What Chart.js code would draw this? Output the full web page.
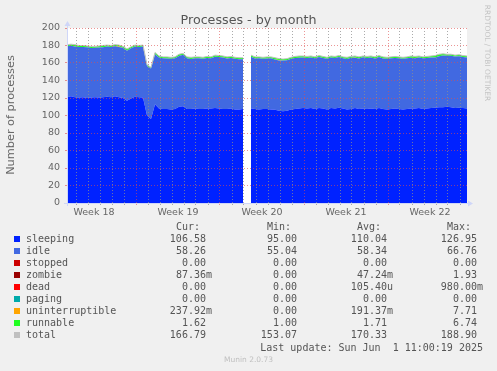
<!DOCTYPE html>
<html>
<head>
<meta charset="utf-8">
<script src="https://cdn.jsdelivr.net/npm/chart.js@4.4.0/dist/chart.umd.min.js"></script>
<style>
  html, body { margin: 0; padding: 0; background: #f0f0f0; }
  #wrap { position: relative; width: 497px; height: 371px; overflow: hidden; }
  #chart { position: absolute; left: 0; top: 0; }
  .txt { position: absolute; white-space: pre; color: #666; font-family: 'DejaVu Sans', sans-serif; }
  .mono { position: absolute; white-space: pre; font-family: 'DejaVu Sans Mono', monospace; font-size: 10px; line-height: 12px; color: #555; }
  .sw { position: absolute; width: 6px; height: 6px; }
</style>
</head>
<body>
<div id="wrap">
  <canvas id="chart" width="497" height="371"></canvas>
  <div class="txt" style="left:0; top:12px; width:497px; text-align:center; font-size:12.7px; line-height:15px; color:#555;">Processes - by month</div>
  <div class="txt" style="left:-89px; top:108px; width:200px; height:14px; text-align:center; font-size:11.3px; line-height:14px; transform:rotate(-90deg);">Number of processes</div>
  <div class="txt" style="left:427px; top:48px; width:120px; height:10px; text-align:center; font-size:7.5px; line-height:10px; color:#c4c4c4; transform:rotate(90deg);">RRDTOOL / TOBI OETIKER</div>
  <div id="legend"></div>
  <div class="mono" style="right:14px; top:342px;">Last update: Sun Jun  1 11:00:19 2025</div>
  <div class="txt" style="left:0; top:355px; width:497px; text-align:center; font-size:7.5px; line-height:10px; color:#c0c0c0;">Munin 2.0.73</div>
</div>
<script>
// one sample every 8 hours (null = no data)
const sampleHours = 8;

const sleeping = [
  121, 122, 121, 120.5, 121, 120, 120.5, 121, 120.5, 121,
  121.5, 121, 122, 121, 120, 117, 119.5, 121.5, 121, 120.5,
  100, 96, 113, 108, 107.5, 107.5, 107, 107.5, 110, 110.5,
  107.5, 107.5, 108, 107.5, 107.5, 108, 108, 108.5, 108, 107.5,
  107.5, 108, 107, 107, 107.5, null, 108, 107.5, 107, 107.5,
  107.5, 107, 106.5, 105.5, 105, 105.5, 107, 107.5, 108, 108.5,
  108, 108.5, 107.5, 108.5, 108, 107, 108.5, 108, 109, 108,
  107, 107.5, 108.5, 107.5, 108, 107.5, 108, 107.5, 108.5, 107.5,
  107, 107.5, 108, 107.5, 107, 107.5, 108, 108, 108.5, 107.5,
  108, 108.5, 109, 109.5, 109.5, 110, 109.5, 108.5, 109, 108.5,
  108
];

const idle = [
  58.5, 57.7, 58.0, 57.9, 57.3, 58.0, 56.7, 56.4, 57.3, 57.0,
  57.4, 57.2, 57.2, 57.3, 57.4, 57.1, 57.3, 57.4, 57.2, 58.3,
  56.5, 57.7, 57.1, 58.3, 57.9, 57.7, 58.0, 57.8, 58.0, 58.9,
  57.8, 57.2, 57.5, 57.8, 57.4, 57.6, 57.3, 58.7, 58.9, 58.8,
  57.6, 57.7, 57.8, 57.4, 56.8, null, 59.2, 57.6, 58.3, 57.4,
  57.7, 58.3, 57.5, 57.4, 57.8, 57.7, 58.0, 58.3, 58.1, 57.9,
  57.8, 57.7, 57.9, 58.3, 57.6, 58.0, 57.8, 57.7, 57.9, 57.3,
  57.6, 58.4, 57.4, 57.7, 58.5, 58.3, 58.4, 57.7, 58.3, 57.6,
  57.9, 57.8, 57.7, 58.0, 57.8, 57.9, 58.1, 57.3, 57.7, 57.9,
  57.8, 57.7, 57.4, 58.3, 59.0, 58.2, 58.8, 58.9, 58.7, 58.3,
  58.4
];

const zombie = [
  0, 0, 0, 0, 0, 0, 0, 0, 0, 0,
  0, 0, 0.3, 0, 0, 0, 0, 0, 0, 0,
  0, 0, 0, 0, 0, 0, 0, 0, 0, 0,
  0, 0, 0, 0, 0, 0, 0, 0, 0, 0,
  0, 0, 0, 0, 0, null, 0, 0, 0, 0,
  0, 0, 0, 0, 0, 0, 0, 0, 0, 0,
  0, 0, 0, 0, 0, 0, 0, 0, 0, 0,
  0, 0, 0, 0, 0, 0, 0, 0, 0, 0,
  0, 0, 0, 0, 0, 0, 0, 0, 0, 0,
  0, 0, 0, 0, 0, 0, 0, 0, 0, 0,
  0
];

const uninterruptible = [
  0, 0, 0, 0, 0, 0, 0, 0, 0, 0,
  0, 0, 0, 0.5, 0, 0, 0, 0, 0, 0,
  0, 0, 0, 0, 0, 0, 0, 0, 0, 0,
  0, 0, 0, 0, 0, 0, 0, 0, 0, 0,
  0.4, 0, 0, 0, 0, null, 0, 0, 0, 0,
  0, 0, 0, 0.5, 0, 0, 0, 0, 0, 0,
  0, 0, 0, 0, 0, 0, 0, 0, 0, 0,
  0, 0, 0.4, 0, 0, 0, 0, 0, 0, 0,
  0, 0, 0, 0, 0, 0, 0, 0.5, 0, 0,
  0, 0, 0, 0, 0, 0, 0, 0, 0, 0,
  0
];

const runnable = [
  1.5, 1.8, 2.0, 1.6, 1.7, 1.5, 1.8, 1.6, 1.7, 2.0,
  1.6, 1.8, 1.5, 1.7, 1.6, 1.9, 1.7, 1.6, 1.8, 1.7,
  1.5, 1.3, 1.9, 1.7, 1.6, 1.8, 1.5, 1.7, 2.0, 1.6,
  1.7, 1.8, 1.5, 1.7, 1.6, 1.9, 1.7, 1.8, 1.6, 1.7,
  1.5, 1.8, 1.7, 1.6, 1.7, null, 1.8, 1.9, 1.7, 1.6,
  1.8, 1.7, 2.0, 1.6, 1.7, 1.8, 1.5, 1.7, 1.9, 1.6,
  1.7, 1.8, 1.6, 1.7, 1.9, 1.5, 1.7, 1.8, 1.6, 1.7,
  1.9, 1.6, 1.7, 1.8, 1.5, 1.7, 1.6, 1.8, 1.7, 1.9,
  1.6, 1.7, 1.8, 1.5, 1.7, 1.6, 1.9, 1.7, 1.8, 1.6,
  1.7, 1.8, 2.1, 2.2, 2.0, 1.8, 1.7, 1.6, 1.8, 1.7,
  1.6
];

const total = [
  181, 181.5, 181, 180, 180, 179.5, 179, 179, 179.5, 180,
  180.5, 180, 181, 180.5, 179, 176, 178.5, 180.5, 180, 180.5,
  158, 155, 172, 168, 167, 167, 166.5, 167, 170, 171,
  167, 166.5, 167, 167, 166.5, 167.5, 167, 169, 168.5, 168,
  167, 167.5, 166.5, 166, 166, null, 169, 167, 167, 166.5,
  167, 167, 166, 165, 164.5, 165, 166.5, 167.5, 168, 168,
  167.5, 168, 167, 168.5, 167.5, 166.5, 168, 167.5, 168.5, 167,
  166.5, 167.5, 168, 167, 168, 167.5, 168, 167, 168.5, 167,
  166.5, 167, 167.5, 167, 166.5, 167, 168, 167.5, 168, 167,
  167.5, 168, 168.5, 170, 170.5, 170, 170, 169, 169.5, 168.5,
  168
];

const weekLabels = ['Week 18', 'Week 19', 'Week 20', 'Week 21', 'Week 22'];

const legendNames = ['sleeping', 'idle', 'stopped', 'zombie', 'dead', 'paging', 'uninterruptible', 'runnable', 'total'];
const legendColors = ['#0022ff', '#4169e1', '#cc0000', '#990000', '#ff0000', '#00aaaa', '#ffa500', '#22ff22', '#c0c0c0'];
const curValues = ['106.58', '58.26', '0.00', '87.36m', '0.00', '0.00', '237.92m', '1.62', '166.79'];
const minValues = ['95.00', '55.04', '0.00', '0.00', '0.00', '0.00', '0.00', '1.00', '153.07'];
const avgValues = ['110.04', '58.34', '0.00', '47.24m', '105.40u', '0.00', '191.37m', '1.71', '170.33'];
const maxValues = ['126.95', '66.76', '0.00', '1.93', '980.00m', '0.00', '7.71', '6.74', '188.90'];

document.addEventListener('DOMContentLoaded', function() {
    const GRID = 'rgba(143, 143, 143, 0.75)';
    const MGRID = 'rgba(222, 79, 79, 0.6)';
    const NONE = 'rgba(0, 0, 0, 0)';
    const AXIS = '#cfd6f8';
    const weekStart = 5.75;   // day offset of the first week boundary
    const days = (sleeping.length - 1) * sampleHours / 24;
    const times = sleeping.map((v, i) => i * sampleHours / 24);

    function isDay(v) {
        const d = v - (weekStart - 5);
        return Math.abs(d - Math.round(d)) < 0.01;
    }

    function xGridColor(ctx) {
        const v = ctx.tick.value;
        if (!isDay(v)) return NONE;
        const d = Math.round(v - weekStart);
        return d % 7 === 0 ? MGRID : GRID;
    }

    function yGridColor(ctx) {
        return ctx.tick.value % 20 === 0 ? MGRID : GRID;
    }

    // white canvas behind the plot, light axis lines with arrows on top
    const frame = {
        id: 'frame',
        beforeDraw(chart) {
            const a = chart.chartArea;
            const ctx = chart.ctx;
            ctx.save();
            ctx.fillStyle = '#ffffff';
            ctx.fillRect(a.left, a.top, a.right - a.left, a.bottom - a.top);
            ctx.restore();
        },
        afterDraw(chart) {
            const a = chart.chartArea;
            const ctx = chart.ctx;
            const y = a.bottom + 0.5;
            const x = a.left + 0.5;
            ctx.save();
            ctx.strokeStyle = AXIS;
            ctx.fillStyle = AXIS;
            ctx.lineWidth = 1;
            ctx.beginPath();
            ctx.moveTo(a.left - 3, y);
            ctx.lineTo(a.right + 2, y);
            ctx.moveTo(x, a.bottom + 3);
            ctx.lineTo(x, a.top - 2);
            ctx.stroke();
            ctx.beginPath();
            ctx.moveTo(a.right + 1, y - 3);
            ctx.lineTo(a.right + 6, y);
            ctx.lineTo(a.right + 1, y + 3);
            ctx.closePath();
            ctx.fill();
            ctx.beginPath();
            ctx.moveTo(x - 3, a.top - 2);
            ctx.lineTo(x, a.top - 7);
            ctx.lineTo(x + 3, a.top - 2);
            ctx.closePath();
            ctx.fill();
            ctx.restore();
        }
    };

    function area(label, data, color, fill) {
        return {
            label: label,
            data: data,
            backgroundColor: color,
            borderColor: NONE,
            borderWidth: 0,
            fill: fill,
            pointRadius: 0,
            spanGaps: false
        };
    }

    const ctx = document.getElementById('chart').getContext('2d');
    new Chart(ctx, {
        type: 'line',
        data: {
            labels: times,
            datasets: [
                area('sleeping', sleeping, '#0022ff', 'origin'),
                area('idle', idle, '#4169e1', '-1'),
                area('zombie', zombie, '#990000', '-1'),
                area('uninterruptible', uninterruptible, '#ffa500', '-1'),
                area('runnable', runnable, '#22ff22', '-1'),
                {
                    label: 'total',
                    data: total,
                    stack: 'total',
                    borderColor: '#c0c0c0',
                    borderWidth: 1,
                    fill: false,
                    pointRadius: 0,
                    order: -1
                }
            ]
        },
        options: {
            responsive: false,
            animation: false,
            layout: { padding: { top: 28, right: 30, left: 0, bottom: 0 } },
            plugins: {
                legend: { display: false },
                tooltip: { enabled: false },
                title: { display: false }
            },
            elements: { line: { tension: 0 } },
            scales: {
                x: {
                    type: 'linear',
                    min: 0,
                    max: days,
                    afterBuildTicks: function(scale) {
                        const ticks = [];
                        for (let k = 0; 0.25 + k * 0.5 < days; k++) {
                            ticks.push({ value: 0.25 + k * 0.5 });
                        }
                        scale.ticks = ticks;
                    },
                    afterFit: function(scale) { scale.height = 168; },
                    grid: { z: 1, color: xGridColor, tickColor: xGridColor, tickLength: 2 },
                    border: { display: false, dash: [1, 2] },
                    ticks: {
                        autoSkip: false,
                        maxRotation: 0,
                        padding: 2,
                        color: '#666',
                        font: { family: 'DejaVu Sans', size: 9.5 },
                        callback: function(value) {
                            const w = (value - (weekStart - 3.5)) / 7;
                            if (Math.abs(w - Math.round(w)) > 0.001) return '';
                            return weekLabels[Math.round(w)] || '';
                        }
                    }
                },
                y: {
                    stacked: true,
                    min: 0,
                    max: 200,
                    afterFit: function(scale) { scale.width = 67; },
                    grid: { z: 1, color: yGridColor, tickColor: yGridColor, tickLength: 2 },
                    border: { display: false, dash: [1, 2] },
                    ticks: {
                        stepSize: 10,
                        padding: 5,
                        color: '#666',
                        font: { family: 'DejaVu Sans', size: 9.5 },
                        callback: function(value) {
                            return value % 20 === 0 ? value : '';
                        }
                    }
                }
            }
        },
        plugins: [frame]
    });

    // legend table under the graph
    const legend = document.getElementById('legend');
    const colEdges = [212, 303, 393, 483];
    const headers = ['Cur:', 'Min:', 'Avg:', 'Max:'];

    function addText(text, right, top) {
        const el = document.createElement('div');
        el.className = 'mono';
        el.style.right = (497 - right) + 'px';
        el.style.top = top + 'px';
        el.textContent = text;
        legend.appendChild(el);
    }

    headers.forEach((h, c) => addText(h + '  ', colEdges[c], 221));

    legendNames.forEach((name, k) => {
        const top = 233 + k * 12;
        const sw = document.createElement('div');
        sw.className = 'sw';
        sw.style.left = '14px';
        sw.style.top = (top + 3) + 'px';
        sw.style.background = legendColors[k];
        legend.appendChild(sw);

        const label = document.createElement('div');
        label.className = 'mono';
        label.style.left = '26px';
        label.style.top = top + 'px';
        label.textContent = name;
        legend.appendChild(label);

        [curValues, minValues, avgValues, maxValues].forEach((col, c) => {
            const v = col[k];
            const withUnit = /[a-z]$/.test(v) ? v : v + ' ';
            addText(withUnit, colEdges[c], top);
        });
    });
});
</script>
</body>
</html>
